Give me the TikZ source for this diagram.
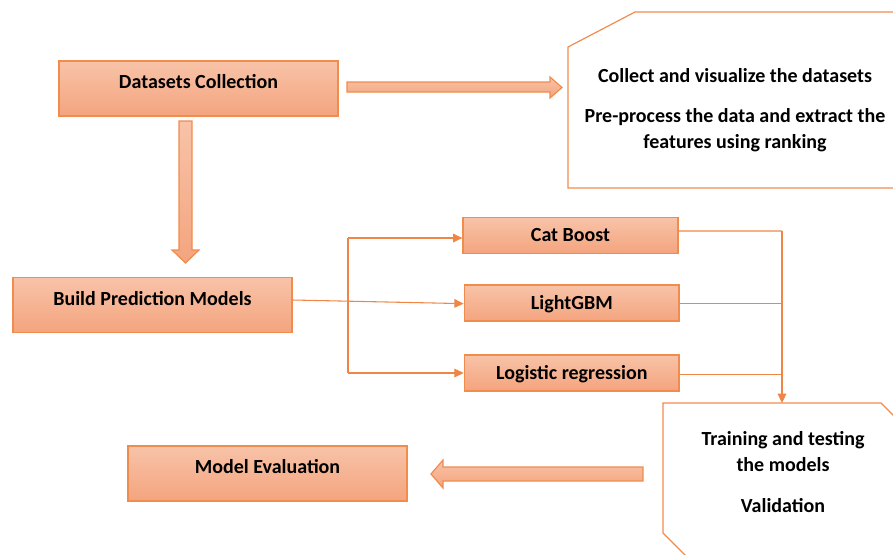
\documentclass[tikz,border=0pt]{standalone}
\usepackage{fontspec}
\setmainfont{Carlito}
\usetikzlibrary{positioning,arrows.meta,calc}

\definecolor{boxline}{HTML}{F08C4E}
\definecolor{boxtop}{HTML}{F8C3A8}
\definecolor{boxbot}{HTML}{F4A47E}
\definecolor{wire}{HTML}{EF8645}

\tikzset{
  txt/.style={font=\bfseries\fontsize{15pt}{19.5pt}\selectfont},
  stage/.style={txt, draw=boxline, line width=1.2pt, top color=boxtop, bottom color=boxbot,
    minimum width=209pt, minimum height=41pt, text height=10pt, text depth=10pt, inner sep=0pt},
  model/.style={txt, draw=boxline, line width=1.2pt, top color=boxtop, bottom color=boxbot,
    minimum width=161pt, minimum height=27pt, text height=9.7pt, text depth=0pt, inner sep=0pt},
  panel/.style={draw=boxline, line width=0.9pt, fill=white},
  fatarrow/.style={draw=boxline, line width=0.9pt, top color=boxtop, bottom color=boxbot},
  wire/.style={draw=wire, line width=0.8pt},
  tip/.style={-{Triangle[length=7pt,width=6.5pt]}}
}

\begin{document}
\begin{tikzpicture}[x=0.75pt,y=-0.75pt]

    \useasboundingbox (0,0) rectangle (893,554);
    \clip (0,0) rectangle (893,554);

    % side panels
    \draw[panel] (568,47) -- (635,12) -- (910,12) -- (910,188) -- (568,188) -- cycle;
    \draw[panel] (663,403) -- (881,403) -- (903,425) -- (903,557) -- (687,557) -- (663,533) -- cycle;

    \node[stage] (dc) at (198.5,88.5) {Datasets Collection};
    \node[stage] (bpm) at (152.5,305) {Build Prediction Models};
    \node[stage] (meval) at (267.5,473.5) {Model Evaluation};

    \node[model] (cat) at (570.5,235.5) {Cat Boost};
    \node[model] (lgbm) [below=22.5pt of cat.south, anchor=north, xshift=1pt] {LightGBM};
    \node[model] (logr) [below=24pt of lgbm.south, anchor=north] {Logistic regression};

    \node[txt, align=center, anchor=north, inner sep=0pt] (collect) at (735,68)
      {Collect and visualize the datasets\\[11pt]Pre-process the data and extract the\\features using ranking};
    \node[txt, align=center, anchor=north, inner sep=0pt] (train) at (783,431)
      {Training and testing\\the models\\[11pt]Validation};

    % block arrows
    \coordinate (down) at (185.5,121);
    \draw[fatarrow] (down) ++(-6.5,0) -- ++(13,0) -- ++(0,129) -- ++(7,0) -- ++(-13.5,13)
      -- ++(-13.5,-13) -- ++(7,0) -- cycle;
    \coordinate (right) at (347,87);
    \draw[fatarrow] (right) ++(0,-5) -- ++(203,0) -- ++(0,-5) -- ++(12,10.5) -- ++(-12,10.5)
      -- ++(0,-6) -- ++(-203,0) -- cycle;
    \coordinate (left) at (643,474);
    \draw[fatarrow] (left) ++(0,-7) -- ++(-200,0) -- ++(0,-7) -- ++(-12,14) -- ++(12,14)
      -- ++(0,-7) -- ++(200,0) -- cycle;

    % fork to the models
    \coordinate (forktop) at (348,238);
    \coordinate (forkbot) at (348,373);
    \draw[wire] (forktop) -- (forkbot);
    \draw[wire,tip] (forktop) -- (cat.west |- forktop);
    \draw[wire,tip] (forkbot) -- (logr.west |- forkbot);
    \draw[wire,tip] ([yshift=3.75pt]bpm.east) -- ([yshift=-0.4pt]lgbm.west);

    % merge to training
    \coordinate (merge) at (782,231);
    \coordinate (traintop) at (782,403);
    \draw[wire] ([yshift=3.4pt]cat.east) -- (merge);
    \draw[wire] (lgbm.east) -- (lgbm.east -| merge);
    \draw[wire] ([yshift=-1.5pt]logr.east) -- ([yshift=-1.5pt]logr.east -| merge);
    \draw[wire,tip] (merge) -- (traintop);

\end{tikzpicture}
\end{document}
